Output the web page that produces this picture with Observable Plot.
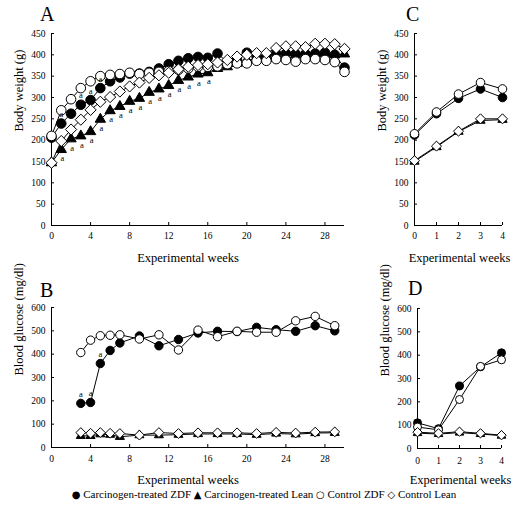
<!DOCTYPE html>
<html><head><meta charset="utf-8">
<script src="https://cdn.jsdelivr.net/npm/d3@7"></script>
<script src="https://cdn.jsdelivr.net/npm/@observablehq/plot@0.6"></script>
<style>
html,body{margin:0;padding:0;background:#fff;}
#wrap{position:relative;width:515px;height:507px;font-family:"Liberation Serif","Times New Roman",serif;overflow:hidden;background:#fff;}
#wrap svg{position:absolute;}
#wrap svg text{font-family:"Liberation Serif","Times New Roman",serif !important;}
#wrap svg g[aria-label^="x-axis"] text, #wrap svg g[aria-label^="y-axis"] text{font-size:9.5px !important;}
.letter{position:absolute;font-size:20px;line-height:1;color:#000;}
#legend{position:absolute;left:0;width:528px;top:488px;text-align:center;font-size:11px;color:#000;white-space:nowrap;}
#legend .s{font-family:"DejaVu Sans",sans-serif;font-size:10px;}
</style></head><body><div id="wrap"></div>
<script>
// ---------- Panel A: body weight, weeks 0-30 ----------
const weeksA = [0,1,2,3,4,5,6,7,8,9,10,11,12,13,14,15,16,17,18,19,20,21,22,23,24,25,26,27,28,29,30];
const bwCarZDF  = [206,239,262,283,294,322,338,347,356,356,360,368,378,386,392,395,393,403,383,388,405,396,396,403,403,402,402,403,405,400,370];
const bwCarLean = [147,178,203,210,220,249,269,279,291,298,312,320,328,340,348,355,358,368,372,380,388,390,392,395,398,400,400,402,403,400,402];
const bwCtlZDF  = [210,270,296,322,338,350,353,355,358,355,358,360,362,365,368,372,372,373,378,380,380,386,386,390,388,384,390,390,388,383,360];
const bwCtlLean = [147,198,225,248,271,290,301,314,326,335,346,352,358,366,372,376,378,382,388,396,400,404,404,416,420,420,418,426,426,425,414];
const sigA_CarLean = [1,2,3,4,5,6,7,8,9,10,11,12,13,14,15,16];
const sigA_CarZDF  = [1,3,4,5];

// ---------- Panel B: blood glucose, weeks 3-29 ----------
const weeksB = [3,4,5,6,7,9,11,13,15,17,19,21,23,25,27,29];
const bgCarZDF  = [189,193,360,416,448,478,436,463,491,498,497,515,505,498,522,500];
const bgCarLean = [50,50,57,55,46,53,53,55,58,58,58,55,60,57,62,63];
const bgCtlZDF  = [407,460,479,481,483,465,483,418,503,475,498,494,494,543,562,522];
const bgCtlLean = [64,61,64,61,60,53,64,60,63,63,63,60,65,62,66,67];
const sigB_CarZDF = [3,4,5];

// ---------- Panel C: body weight, weeks 0-4 ----------
const weeksC = [0,1,2,3,4];
const bwCCarZDF  = [212,262,298,320,300];
const bwCCarLean = [150,184,220,246,248];
const bwCCtlZDF  = [215,266,308,335,320];
const bwCCtlLean = [152,186,221,250,250];

// ---------- Panel D: blood glucose, weeks 0-4 ----------
const weeksD = [0,1,2,3,4];
const bgDCarZDF  = [110,85,268,350,410];
const bgDCarLean = [66,62,68,62,55];
const bgDCtlZDF  = [92,80,210,352,380];
const bgDCtlLean = [70,65,72,65,57];

// ---------- ticks & labels ----------
const ticksWeeksLong  = [0,4,8,12,16,20,24,28];
const ticksWeeksShort = [0,1,2,3,4];
const ticksWeight  = [0,50,100,150,200,250,300,350,400,450];
const ticksGlucose = [0,100,200,300,400,500,600];
const xTitle = "Experimental weeks";
const yTitleWeight = "Body weight (g)";
const yTitleGlucose = "Blood glucose (mg/dl)";
const seriesNames = ["Carcinogen-treated ZDF","Carcinogen-treated Lean","Control ZDF","Control Lean"];
const legendGlyphs = ["\u25CF","\u25B2","\u25CB","\u25C7"];
const panelLetters = ["A","B","C","D"];

const serif = "Liberation Serif, Times New Roman, serif";

// styles per series (order = draw order)
const styles = [
  {symbol:"circle",   fill:"black", k:1},
  {symbol:"triangle", fill:"black", k:0.8},
  {symbol:"circle",   fill:"white", k:1},
  {symbol:"diamond2", fill:"white", k:1.05}
];

function toRows(weeks, vals){ return weeks.map((w,i)=>({w, v: vals[i]})); }

function panel({box, frame, xDomain, yDomain, xTicks, yTicks, yTitle, series, r, sigs, xTitleDx, yTitleDy, xTickPad, xTitleDy}) {
  const marks = [];
  marks.push(Plot.ruleX([xDomain[0]], {stroke:"black", strokeWidth:1}));
  marks.push(Plot.ruleY([yDomain[0]], {stroke:"black", strokeWidth:1}));
  const rows = series.map(vals => toRows(series.weeks, vals));
  rows.forEach(d => marks.push(Plot.line(d, {x:"w", y:"v", stroke:"black", strokeWidth:1})));
  rows.forEach((d,i) => marks.push(Plot.dot(d, {x:"w", y:"v", symbol: styles[i].symbol, fill: styles[i].fill, stroke:"black", strokeWidth:1, r: r*styles[i].k})));
  (sigs||[]).forEach(s => {
    const d = rows[s.series].filter(p => s.weeks.includes(p.w));
    marks.push(Plot.text(d, {x:"w", y:"v", text: () => "a", dy: s.dy, dx: s.dx||0, fontSize: 8.5, fontFamily: serif}));
  });
  marks.push(Plot.text([xTitle], {frameAnchor:"bottom", text: d=>d, dy: xTitleDy, dx: xTitleDx, fontSize: 12.5, fontFamily: serif}));
  marks.push(Plot.text([yTitle], {frameAnchor:"left", text: d=>d, rotate:-90, dx: -33, dy: yTitleDy, fontSize: 12.5, fontFamily: serif}));
  const svg = Plot.plot({
    width: box.w, height: box.h,
    marginLeft: frame.x0 - box.left, marginRight: box.left + box.w - frame.x1,
    marginTop: frame.y0 - box.top, marginBottom: box.top + box.h - frame.y1,
    style: "font-size:9.5px;font-family:'Liberation Serif','Times New Roman',serif;background:transparent;overflow:visible;",
    x: {domain: xDomain, ticks: xTicks, tickSize: -3, tickPadding: xTickPad, label: null, tickFormat: d => String(d)},
    y: {domain: yDomain, ticks: yTicks, tickSize: -3, tickPadding: 9, label: null, tickFormat: d => String(d)},
    marks
  });
  svg.style.position = "absolute";
  svg.style.left = box.left + "px";
  svg.style.top = box.top + "px";
  return svg;
}

const wrap = document.getElementById("wrap");

const sA = [bwCarZDF, bwCarLean, bwCtlZDF, bwCtlLean]; sA.weeks = weeksA;
const sB = [bgCarZDF, bgCarLean, bgCtlZDF, bgCtlLean]; sB.weeks = weeksB;
const sC = [bwCCarZDF, bwCCarLean, bwCCtlZDF, bwCCtlLean]; sC.weeks = weeksC;
const sD = [bgDCarZDF, bgDCarLean, bgDCtlZDF, bgDCtlLean]; sD.weeks = weeksD;

wrap.appendChild(panel({
  box:{left:0, top:0, w:352, h:272}, frame:{x0:51, x1:344, y0:33, y1:225},
  xDomain:[0,30], yDomain:[0,450], xTicks:ticksWeeksLong, yTicks:ticksWeight,
  yTitle: yTitleWeight, series: sA, r: 4.8, xTitleDx:-10, yTitleDy:2, xTickPad:10, xTitleDy:36,
  sigs:[{series:1, weeks:sigA_CarLean, dy:9, dx:1},{series:0, weeks:sigA_CarZDF, dy:-9}]
}));
wrap.appendChild(panel({
  box:{left:0, top:275, w:352, h:225}, frame:{x0:51, x1:344, y0:307, y1:447},
  xDomain:[0,30], yDomain:[0,600], xTicks:ticksWeeksLong, yTicks:ticksGlucose,
  yTitle: yTitleGlucose, series: sB, r: 4.2, xTitleDx:-10, yTitleDy:-2, xTickPad:11, xTitleDy:36,
  sigs:[{series:0, weeks:sigB_CarZDF, dy:-9}]
}));
wrap.appendChild(panel({
  box:{left:360, top:0, w:155, h:272}, frame:{x0:414, x1:502, y0:33, y1:225},
  xDomain:[0,4], yDomain:[0,450], xTicks:ticksWeeksShort, yTicks:ticksWeight,
  yTitle: yTitleWeight, series: sC, r: 4.3, xTitleDx:1, yTitleDy:2, xTickPad:10, xTitleDy:36
}));
wrap.appendChild(panel({
  box:{left:360, top:275, w:155, h:225}, frame:{x0:417, x1:501, y0:308, y1:448},
  xDomain:[0,4], yDomain:[0,600], xTicks:ticksWeeksShort, yTicks:ticksGlucose,
  yTitle: yTitleGlucose, series: sD, r: 4.0, xTitleDx:1, yTitleDy:-2, xTickPad:12, xTitleDy:35
}));

// panel letters
const letterPos = [[40,4],[40,280],[406,4],[408,278]];
panelLetters.forEach((L,i) => {
  const d = document.createElement("div");
  d.className = "letter"; d.textContent = L;
  d.style.left = letterPos[i][0] + "px"; d.style.top = letterPos[i][1] + "px";
  wrap.appendChild(d);
});

// legend
const lg = document.createElement("div");
lg.id = "legend";
seriesNames.forEach((n,i) => {
  const s = document.createElement("span"); s.className = "s"; s.textContent = legendGlyphs[i];
  lg.appendChild(s);
  lg.appendChild(document.createTextNode(" " + n + (i < seriesNames.length-1 ? " " : "")));
});
wrap.appendChild(lg);
</script></body></html>
